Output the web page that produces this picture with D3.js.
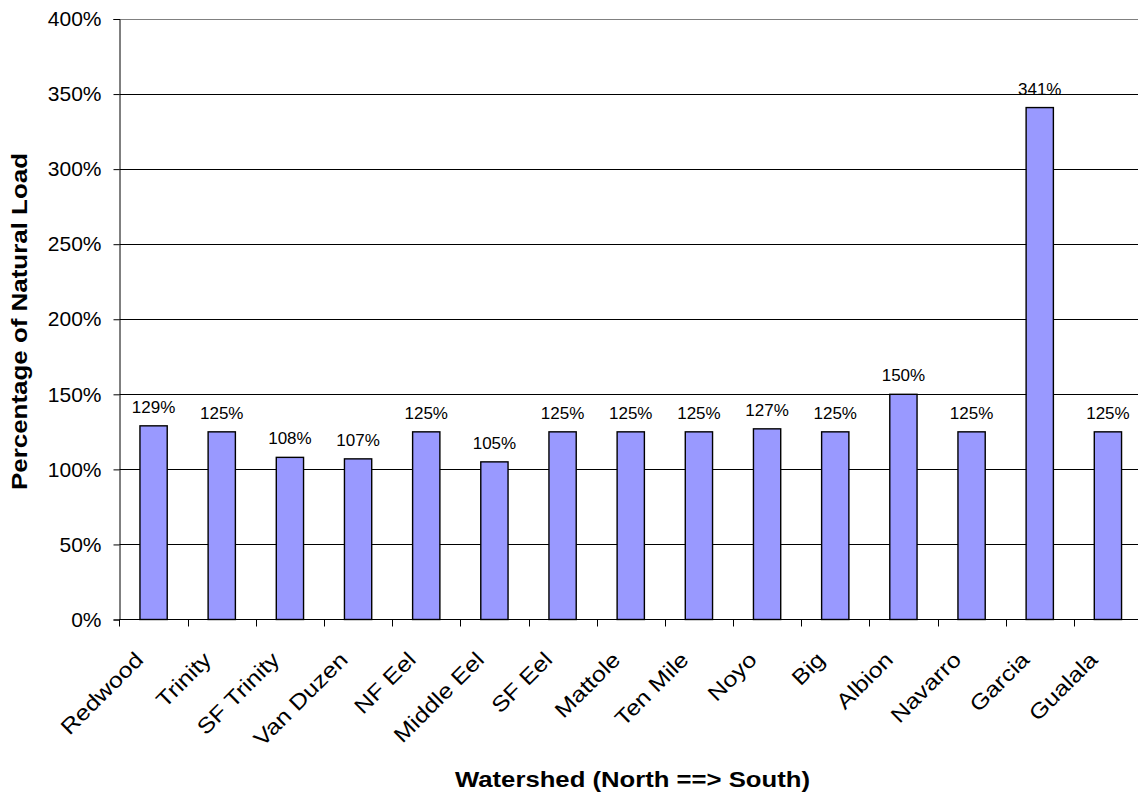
<!DOCTYPE html>
<html>
<head>
<meta charset="utf-8">
<script src="https://cdn.jsdelivr.net/npm/d3@7"></script>
<style>
  html, body { margin: 0; padding: 0; background: #fff; }
  svg { display: block; font-family: Arial, "Liberation Sans", sans-serif; }
</style>
</head>
<body>
<svg id="chart" width="1138" height="794"></svg>
<script>
// Watersheds listed north to south
const watersheds = ["Redwood", "Trinity", "SF Trinity", "Van Duzen", "NF Eel", "Middle Eel",
  "SF Eel", "Mattole", "Ten Mile", "Noyo", "Big", "Albion", "Navarro", "Garcia", "Gualala"];
// Sediment load as a percentage of the natural load
const loadPct = [129, 125, 108, 107, 125, 105, 125, 125, 125, 127, 125, 150, 125, 341, 125];
const yTicks = [0, 50, 100, 150, 200, 250, 300, 350, 400];

const svg = d3.select("#chart");
const W = 1138, H = 794;
const plotLeft = 119.5, plotRight = 1142, plotTop = 19, plotBottom = 619.5;

const x = d3.scaleBand()
  .domain(watersheds)
  .range([plotLeft, plotRight])
  .paddingInner(0.6)
  .paddingOuter(0.3);
const band = d3.scaleBand().domain(watersheds).range([plotLeft, plotRight]);

const y = d3.scaleLinear().domain([0, 400]).range([plotBottom, plotTop]);

// Horizontal gridlines
svg.append("g")
  .selectAll("line")
  .data(yTicks.filter(d => d > 0))
  .join("line")
  .attr("x1", plotLeft).attr("x2", W)
  .attr("y1", d => Math.round(y(d)) + 0.5).attr("y2", d => Math.round(y(d)) + 0.5)
  .attr("stroke", d => d === 400 ? "#808080" : "#000")
  .attr("stroke-width", 1);

// Bars
svg.append("g")
  .selectAll("rect")
  .data(loadPct)
  .join("rect")
  .attr("x", (d, i) => x(watersheds[i]))
  .attr("width", x.bandwidth())
  .attr("y", d => y(d))
  .attr("height", d => y(0) - y(d))
  .attr("fill", "#9999FF")
  .attr("stroke", "#000")
  .attr("stroke-width", 1.4);

// Value labels
svg.append("g")
  .selectAll("text")
  .data(loadPct)
  .join("text")
  .attr("x", (d, i) => x(watersheds[i]) + x.bandwidth() / 2)
  .attr("y", d => y(d) - 13)
  .attr("text-anchor", "middle")
  .attr("font-size", 17)
  .attr("fill", "#000")
  .text(d => d + "%");

// Y axis
const yAxis = d3.axisLeft(y).tickValues(yTicks).tickFormat(d => d + "%").tickSize(6).tickPadding(12);
const gy = svg.append("g").attr("transform", `translate(${plotLeft},0)`).call(yAxis);
gy.select(".domain").attr("stroke", "#000");
gy.selectAll(".tick line").attr("stroke", "#000");
gy.selectAll("text").attr("font-size", 21).attr("fill", "#000")
  .attr("font-family", "Arial, 'Liberation Sans', sans-serif");

// X axis with tick marks at the category boundaries
const gx = svg.append("g").attr("transform", `translate(0,${y(0)})`);
gx.append("line")
  .attr("x1", plotLeft).attr("x2", W)
  .attr("stroke", "#000");
gx.selectAll("line.tk")
  .data(watersheds)
  .join("line")
  .attr("class", "tk")
  .attr("x1", d => Math.round(band(d)) + 0.5).attr("x2", d => Math.round(band(d)) + 0.5)
  .attr("y1", 0).attr("y2", 7)
  .attr("stroke", "#000");

// Rotated category labels
svg.append("g")
  .selectAll("text")
  .data(watersheds)
  .join("text")
  .attr("transform", d => `translate(${x(d) + x.bandwidth() / 2 - 9},${y(0) + 41.5}) rotate(-45) scale(1.17,1)`)
  .attr("text-anchor", "end")
  .attr("font-size", 21.5)
  .attr("fill", "#000")
  .text(d => d);

// Axis titles
svg.append("text")
  .attr("x", 632.5)
  .attr("y", 786.5)
  .attr("text-anchor", "middle")
  .attr("font-size", 21.5)
  .attr("font-weight", "bold")
  .attr("textLength", 355)
  .attr("lengthAdjust", "spacingAndGlyphs")
  .text("Watershed (North ==> South)");

svg.append("text")
  .attr("transform", `translate(27,321.5) rotate(-90)`)
  .attr("text-anchor", "middle")
  .attr("font-size", 21.5)
  .attr("font-weight", "bold")
  .attr("textLength", 337)
  .attr("lengthAdjust", "spacingAndGlyphs")
  .text("Percentage of Natural Load");
</script>
</body>
</html>
